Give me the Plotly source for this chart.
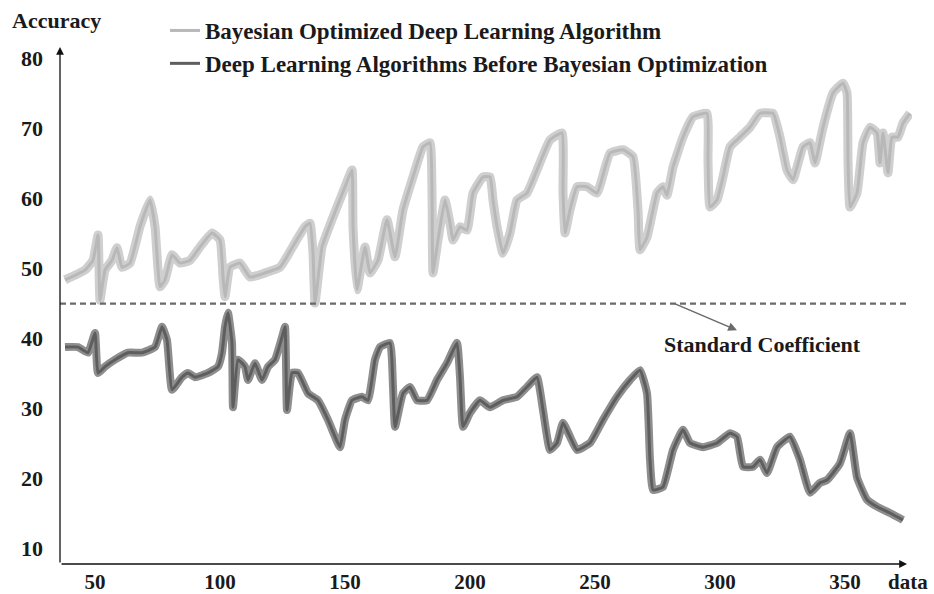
import plotly.graph_objects as go

# Bayesian optimized deep learning algorithm
bayes_x = [38, 46, 49.2, 51.2, 52, 54, 56.8, 58.8, 60.8, 64, 68, 72, 74, 76, 78, 80.8, 84, 88, 92, 96.8,
           100, 101.2, 102, 104, 108, 112, 118, 124, 130, 134, 136, 137.2, 138, 140.8, 144.8, 150, 152.8,
           153.2, 154.8, 158, 160, 163.2, 166.8, 170, 173.2, 177.2, 181.2, 184, 184.8, 185.2, 187.2, 190,
           192, 193.2, 196, 198.8, 201.2, 205.2, 208, 209.2, 210.8, 213.2, 216, 218.8, 222.8, 226.8, 232,
           236.8, 237.2, 238, 240, 242.8, 246.8, 250.8, 256, 261.2, 265.2, 267.2, 268, 270.8, 274.8, 277.2,
           278.8, 281.2, 285.2, 289.2, 294.8, 295.2, 296, 298.8, 301.2, 304, 308, 312, 316, 321.2, 324,
           326.8, 329.2, 333.2, 336, 338, 341.2, 345.2, 349.2, 350.8, 351.2, 352, 354.8, 357.2, 360, 362.8,
           364, 365.2, 367.2, 368.8, 371.2, 373.2, 376]
bayes_y = [48.3, 49.7, 51.1, 54.7, 45.4, 49.7, 51.1, 52.9, 50.1, 50.7, 55.9, 59.7, 55.9, 47.3, 48.3, 51.9,
           50.7, 51.1, 53.0, 55.0, 54.0, 48.7, 45.9, 50.1, 50.7, 48.7, 49.3, 50.1, 53.6, 55.9, 56.4, 52.1,
           45.0, 53.0, 56.9, 61.6, 64.0, 55.9, 46.9, 53.0, 49.3, 51.1, 56.9, 51.6, 58.3, 63.0, 67.3, 67.9,
           60.7, 49.3, 54.0, 59.7, 56.4, 54.0, 55.9, 55.4, 60.7, 63.0, 63.0, 59.7, 55.9, 52.1, 55.0, 59.7,
           60.7, 64.0, 68.3, 69.3, 60.7, 55.0, 58.3, 61.6, 61.6, 60.7, 66.4, 66.9, 65.9, 58.3, 52.6, 54.4,
           60.7, 61.6, 60.4, 64.4, 68.7, 71.6, 72.1, 65.4, 58.7, 59.7, 63.0, 67.3, 68.7, 70.1, 72.1, 72.1,
           68.7, 64.0, 62.6, 67.3, 67.9, 65.0, 70.1, 75.0, 76.4, 75.0, 65.4, 58.7, 60.7, 67.9, 70.1, 69.3,
           65.0, 69.3, 63.6, 68.7, 68.7, 70.7, 72.1]

# Deep learning algorithms before Bayesian optimization
before_x = [38, 43.2, 47.2, 50, 51.2, 54, 58, 63.2, 68.8, 74, 76.8, 78.8, 80.8, 84.8, 87.2, 90, 95.2, 99.2,
            100.8, 102, 103.2, 104.8, 105.2, 107.2, 110, 111.2, 114, 116.8, 119.2, 122, 124.8, 126, 126.8,
            128.8, 131.2, 135.2, 139.2, 143.2, 146, 148, 150, 152.8, 156.8, 159.2, 162, 164, 168, 169.2,
            170, 173.2, 176, 178.8, 182.8, 186.8, 190.8, 194.8, 196, 197.2, 200, 204, 208, 213.2, 218.8,
            222.8, 226.8, 229.2, 232, 234.8, 237.2, 240, 242.8, 248, 253.2, 258.8, 264, 268, 270.8, 272,
            273.2, 277.2, 281.2, 285.2, 288, 293.2, 298.8, 304, 306.8, 309.2, 313.2, 316, 318.8, 322.8,
            328, 332, 336, 340, 342.8, 348, 352, 354.8, 358.8, 362.8, 368, 373.2]
before_y = [38.7, 38.7, 37.9, 40.7, 35.0, 35.9, 36.9, 37.9, 37.9, 38.7, 41.6, 39.7, 32.6, 34.4, 35.0, 34.4,
            35.0, 35.9, 37.9, 41.6, 43.6, 39.3, 30.1, 36.9, 35.9, 34.0, 36.4, 34.0, 35.9, 36.9, 40.1, 41.6,
            29.7, 35.0, 35.0, 32.1, 31.1, 28.3, 25.9, 24.4, 28.3, 31.1, 31.6, 31.1, 36.9, 38.7, 39.3, 33.0,
            27.3, 32.1, 33.0, 31.1, 31.1, 34.0, 36.4, 39.3, 34.4, 27.3, 29.3, 31.1, 30.1, 31.1, 31.6, 33.0,
            34.4, 29.7, 24.0, 25.0, 27.9, 25.9, 24.0, 25.0, 28.3, 31.6, 34.0, 35.4, 32.1, 22.6, 18.3, 18.7,
            24.0, 26.9, 25.0, 24.4, 25.0, 26.4, 25.9, 21.6, 21.6, 22.6, 20.7, 24.4, 25.9, 22.6, 17.9, 19.3,
            19.7, 22.1, 26.4, 20.1, 16.9, 15.9, 15.0, 14.0]

x_ticks = [50, 100, 150, 200, 250, 300, 350]
y_ticks = [10, 20, 30, 40, 50, 60, 70, 80]
standard_coefficient = 44.9
x_range = [36, 376.8]
y_range = [7.71, 81.57]

FONT = "Liberation Serif"
TXT = "#1a1a1a"
FS = 22

fig = go.Figure()

# Bayesian series: wide light band + core line
fig.add_trace(go.Scatter(x=bayes_x, y=bayes_y, mode="lines", showlegend=False, hoverinfo="skip",
                         line=dict(color="#cfcfcf", width=9, shape="spline", smoothing=0.4)))
fig.add_trace(go.Scatter(x=bayes_x, y=bayes_y, mode="lines",
                         name="Bayesian Optimized Deep Learning Algorithm",
                         line=dict(color="#b8b8b8", width=3, shape="spline", smoothing=0.4)))

# Before series: band + core line
fig.add_trace(go.Scatter(x=before_x, y=before_y, mode="lines", showlegend=False, hoverinfo="skip",
                         line=dict(color="#8e8e8e", width=8, shape="spline", smoothing=0.4)))
fig.add_trace(go.Scatter(x=before_x, y=before_y, mode="lines",
                         name="Deep Learning Algorithms Before Bayesian Optimization",
                         line=dict(color="#5e5e5e", width=3, shape="spline", smoothing=0.4)))

# Standard coefficient dashed line
fig.add_shape(type="line", xref="x", yref="y", x0=x_range[0], x1=376, y0=standard_coefficient,
              y1=standard_coefficient, line=dict(color="#6a6a6a", width=2.2, dash="6px,4px"))

# Axis arrows
fig.add_annotation(x=x_range[0], y=y_range[1], ax=x_range[0], ay=y_range[0], xref="x", yref="y",
                   axref="x", ayref="y", showarrow=True, arrowhead=2, arrowsize=1.2, arrowwidth=1.3,
                   arrowcolor="#111", text="")
fig.add_annotation(x=374.8, y=y_range[0], ax=x_range[0], ay=y_range[0], xref="x", yref="y",
                   axref="x", ayref="y", showarrow=True, arrowhead=2, arrowsize=1.2, arrowwidth=1.3,
                   arrowcolor="#111", text="")

# Standard coefficient pointer and label
fig.add_annotation(x=306.8, y=41.1, ax=281.2, ay=45.0, xref="x", yref="y", axref="x", ayref="y",
                   showarrow=True, arrowhead=2, arrowsize=1.1, arrowwidth=1.6, arrowcolor="#6a6a6a",
                   text="")
fig.add_annotation(x=316.8, y=39.0, xref="x", yref="y", showarrow=False, text="Standard Coefficient",
                   font=dict(family=FONT, size=FS, color=TXT, weight="bold"))

# Axis titles
fig.add_annotation(x=0, y=1, xref="paper", yref="paper", xshift=-4, yshift=27, showarrow=False,
                   text="Accuracy", xanchor="center", yanchor="middle",
                   font=dict(family=FONT, size=FS, color=TXT, weight="bold"))
fig.add_annotation(x=1, y=0, xref="paper", yref="paper", xshift=-4, yshift=-18, showarrow=False,
                   text="data", xanchor="center", yanchor="middle",
                   font=dict(family=FONT, size=21, color=TXT, weight="bold"))

fig.update_layout(
    width=934, height=594,
    margin=dict(l=60, r=22, t=47, b=30, autoexpand=False),
    paper_bgcolor="white", plot_bgcolor="white",
    font=dict(family=FONT, size=FS, color=TXT),
    legend=dict(x=(165 - 60) / 852, y=1 + 38 / 517, xanchor="left", yanchor="top",
                bgcolor="rgba(0,0,0,0)", font=dict(family=FONT, size=23, color=TXT, weight="bold"),
                itemwidth=30, tracegroupgap=0),
    xaxis=dict(range=x_range, tickvals=x_ticks, ticks="", showgrid=False, zeroline=False,
               showline=False, ticklabelstandoff=3, automargin=False,
               tickfont=dict(family=FONT, size=21, color=TXT, weight="bold")),
    yaxis=dict(range=y_range, tickvals=y_ticks, ticks="", showgrid=False, zeroline=False,
               showline=False, ticklabelstandoff=16, automargin=False,
               tickfont=dict(family=FONT, size=FS, color=TXT, weight="bold")),
)

fig.write_html("out.html")
